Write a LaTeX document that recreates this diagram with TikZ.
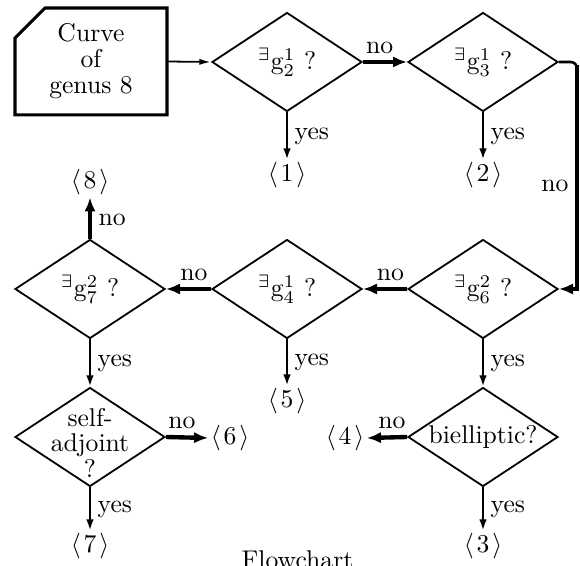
\documentclass[tikz,border=0pt]{standalone}
\usetikzlibrary{shapes.geometric,arrows.meta}
\newcommand{\outc}[1]{$\langle\mskip2mu #1\mskip2mu\rangle$}
\newcommand{\exq}[2]{$^{\exists}\mathrm{g}^{#1}_{#2}$ ?}
\begin{document}
\begin{tikzpicture}[x=0.39pt,y=-0.39pt,
  font=\fontsize{10}{10.1}\selectfont,
  dia/.style={draw,diamond,line width=0.7pt,minimum width=58.5pt,minimum height=38.6pt,inner sep=0pt},
  qlab/.style={align=center,inner sep=0pt},
  endpt/.style={inner sep=0.8pt},
  startbox/.style={minimum width=59.3pt,minimum height=41.7pt,inner sep=0pt,outer sep=0pt,align=center},
  boxline/.style={line width=1.2pt},
  thinarr/.style={line width=0.7pt,-{Latex[length=4.6pt,width=2.4pt]}},
  yesarr/.style={line width=1pt,-{Latex[length=4.4pt,width=3pt]}},
  noarr/.style={line width=1.7pt,-{Latex[length=5.5pt,width=4.4pt]}},
  nolab/.style={above,inner sep=2.5pt,pos=0.38},
  yeslab/.style={right,inner sep=2.5pt,pos=0.5}]
\fill[white] (0,0) rectangle (580,566);
\useasboundingbox (0,0) rectangle (580,566);
% start box
\node[startbox] (start) at (91,61.5) {Curve\\of\\genus 8};
\draw[boxline] (start.south west) -- ([yshift=-11.7pt]start.north west)
  -- ([xshift=11.7pt]start.north west) -- (start.north east)
  -- (start.south east) -- cycle;
% decisions
\node[dia,label={[qlab]center:{\exq{1}{2}}}] (d1) at (287,62) {};
\node[dia,label={[qlab]center:{\exq{1}{3}}}] (d2) at (483,62) {};
\node[dia,label={[qlab]center:{\exq{2}{7}}}] (d7) at (90,289) {};
\node[dia,label={[qlab]center:{\exq{1}{4}}}] (d4) at (287,289) {};
\node[dia,label={[qlab]center:{\exq{2}{6}}}] (d6) at (483,289) {};
\node[dia,label={[qlab,yshift=-2.3pt]center:{self-\\adjoint\\?}}] (sa) at (90,437) {};
\node[dia,label={[qlab]center:{bielliptic?}}] (bi) at (483,437) {};
% outcomes
\node[endpt] (o1) at (287,175) {\outc{1}};
\node[endpt] (o2) at (483,175) {\outc{2}};
\node[endpt] (o8) at (90,182) {\outc{8}};
\node[endpt] (o5) at (287,401) {\outc{5}};
\node[endpt] (o6) at (230,438) {\outc{6}};
\node[endpt] (o4) at (345,438) {\outc{4}};
\node[endpt] (o7) at (90,546) {\outc{7}};
\node[endpt] (o3) at (483,546) {\outc{3}};
\coordinate (turn) at (577,62);
% connectors
\draw[thinarr] (start.east) -- (d1.west);
\draw[noarr] (d1.east) -- node[nolab]{no} (d2.west);
\draw[yesarr] (d1.south) -- node[yeslab]{yes} (o1.north);
\draw[yesarr] (d2.south) -- node[yeslab]{yes} (o2.north);
\draw[line width=1pt,rounded corners=2.5pt] (d2.east) -- (turn) -- ([yshift=-8pt]turn);
\draw[noarr] ([yshift=-1.2pt]turn) |- node[left,pos=0.27,inner sep=2.5pt]{no} (d6.east);
\draw[noarr] (d6.west) -- node[nolab]{no} (d4.east);
\draw[noarr] (d4.west) -- node[nolab]{no} (d7.east);
\draw[noarr] (d7.north) -- node[right,pos=0.45,inner sep=2.5pt]{no} (o8.south);
\draw[yesarr] (d4.south) -- node[yeslab]{yes} (o5.north);
\draw[yesarr] (d6.south) -- node[yeslab]{yes} (bi.north);
\draw[yesarr] (d7.south) -- node[yeslab]{yes} (sa.north);
\draw[noarr] (sa.east) -- node[nolab]{no} (o6.west);
\draw[noarr] (bi.west) -- node[nolab]{no} (o4.east);
\draw[yesarr] (sa.south) -- node[yeslab]{yes} (o7.north);
\draw[yesarr] (bi.south) -- node[yeslab]{yes} (o3.north);
% caption
\node[anchor=base] (cap) at (297.5,568) {Flowchart};
\end{tikzpicture}
\end{document}
